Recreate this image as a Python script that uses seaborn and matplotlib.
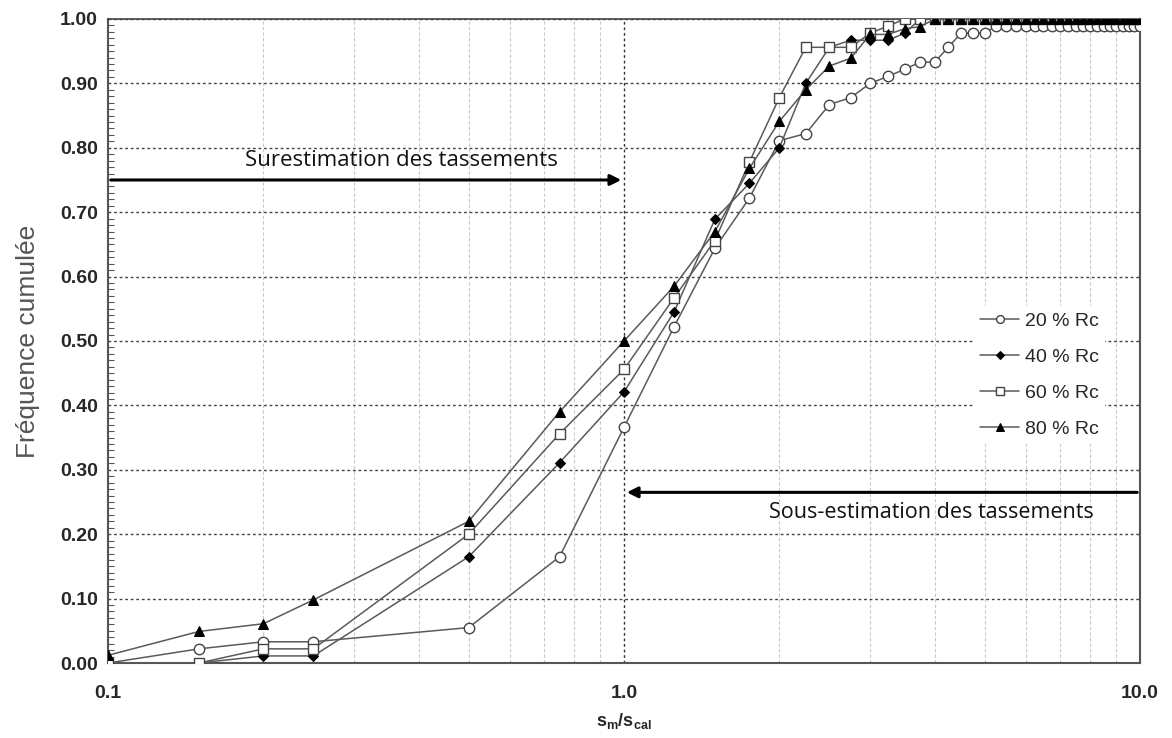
import numpy as np
import pandas as pd
import matplotlib
matplotlib.use('Agg')
import matplotlib.pyplot as plt
from matplotlib.ticker import FixedLocator, MultipleLocator, NullFormatter
import seaborn as sns

# s_m / s_cal values (same for every series)
x_ratio = [0.1, 0.15, 0.2, 0.25, 0.5, 0.75, 1.0, 1.25, 1.5, 1.75, 2.0, 2.25,
           2.5, 2.75, 3.0, 3.25, 3.5, 3.75, 4.0, 4.25, 4.5, 4.75, 5.0, 5.25,
           5.5, 5.75, 6.0, 6.25, 6.5, 6.75, 7.0, 7.25, 7.5, 7.75, 8.0, 8.25,
           8.5, 8.75, 9.0, 9.25, 9.5, 9.75, 10.0]

freq_20 = [0.0, 0.022, 0.033, 0.033, 0.055, 0.165, 0.366, 0.522, 0.644, 0.722,
           0.811, 0.822, 0.867, 0.878, 0.9, 0.911, 0.922, 0.933, 0.933, 0.956,
           0.978, 0.978, 0.978, 0.989, 0.989, 0.989, 0.989, 0.989, 0.989, 0.989,
           0.989, 0.989, 0.989, 0.989, 0.989, 0.989, 0.989, 0.989, 0.989, 0.989,
           0.989, 0.989, 0.989]
freq_40 = [0.0, 0.0, 0.011, 0.011, 0.165, 0.311, 0.421, 0.545, 0.689, 0.745,
           0.8, 0.9, 0.956, 0.967, 0.967, 0.967, 0.978, 1.0, 1.0, 1.0,
           1.0, 1.0, 1.0, 1.0, 1.0, 1.0, 1.0, 1.0, 1.0, 1.0,
           1.0, 1.0, 1.0, 1.0, 1.0, 1.0, 1.0, 1.0, 1.0, 1.0,
           1.0, 1.0, 1.0]
freq_60 = [0.0, 0.0, 0.022, 0.022, 0.2, 0.356, 0.456, 0.567, 0.656, 0.778,
           0.878, 0.956, 0.956, 0.956, 0.978, 0.989, 1.0, 1.0, 1.0, 1.0,
           1.0, 1.0, 1.0, 1.0, 1.0, 1.0, 1.0, 1.0, 1.0, 1.0,
           1.0, 1.0, 1.0, 1.0, 1.0, 1.0, 1.0, 1.0, 1.0, 1.0,
           1.0, 1.0, 1.0]
freq_80 = [0.012, 0.049, 0.061, 0.098, 0.22, 0.39, 0.5, 0.585, 0.67, 0.768,
           0.841, 0.89, 0.927, 0.939, 0.976, 0.976, 0.985, 0.988, 1.0, 1.0,
           1.0, 1.0, 1.0, 1.0, 1.0, 1.0, 1.0, 1.0, 1.0, 1.0,
           1.0, 1.0, 1.0, 1.0, 1.0, 1.0, 1.0, 1.0, 1.0, 1.0,
           1.0, 1.0, 1.0]

labels = ['20 % Rc', '40 % Rc', '60 % Rc', '80 % Rc']

sns.set_style('white')
plt.rcParams['font.family'] = ['Liberation Sans', 'DejaVu Sans']
plt.rcParams['mathtext.fontset'] = 'custom'
plt.rcParams['mathtext.bf'] = 'Liberation Sans:bold'
plt.rcParams['mathtext.rm'] = 'Liberation Sans'

fig = plt.figure(figsize=(11.72, 7.38), dpi=100)
ax = fig.add_axes([0.0922, 0.1016, 0.8805, 0.8727])

line_col = '#5a5a5a'
styles = [
    dict(marker='o', markersize=7.5, markerfacecolor='white', markeredgecolor='#444444', markeredgewidth=1.0),
    dict(marker='D', markersize=5.5, markerfacecolor='black', markeredgecolor='black'),
    dict(marker='s', markersize=7.5, markerfacecolor='white', markeredgecolor='#444444', markeredgewidth=1.0),
    dict(marker='^', markersize=7.5, markerfacecolor='black', markeredgecolor='black'),
]
series = [freq_20, freq_40, freq_60, freq_80]
for yv, lab, st in zip(series, labels, styles):
    sns.lineplot(x=x_ratio, y=yv, ax=ax, color=line_col, linewidth=1.1,
                 label=lab, zorder=3, **st)

ax.set_xscale('log')
ax.set_xlim(0.1, 10)
ax.set_ylim(0, 1)

ax.xaxis.set_major_locator(FixedLocator([0.1, 1.0, 10.0]))
ax.set_xticklabels(['0.1', '1.0', '10.0'])
ax.xaxis.set_minor_locator(FixedLocator([0.2, 0.3, 0.4, 0.5, 0.6, 0.7, 0.8, 0.9,
                                         2, 3, 4, 5, 6, 7, 8, 9]))
ax.xaxis.set_minor_formatter(NullFormatter())
ax.yaxis.set_major_locator(MultipleLocator(0.1))
ax.yaxis.set_minor_locator(MultipleLocator(0.01))
ax.set_yticklabels(['%.2f' % v for v in ax.get_yticks()])

ax.tick_params(axis='both', which='major', direction='inout', length=8, width=1,
               labelsize=14, color='#333333')
ax.tick_params(axis='y', which='minor', direction='in', length=4, width=0.8,
               color='#555555', left=True)
ax.tick_params(axis='x', which='minor', length=0)
for lab in ax.get_xticklabels() + ax.get_yticklabels():
    lab.set_fontweight('bold')
ax.tick_params(axis='x', pad=12)

ax.grid(False)
ax.grid(axis='y', which='major', color='#444444', linestyle=(0, (2, 2)), linewidth=1.0, zorder=0)
ax.grid(axis='x', which='minor', color='#c8c8c8', linestyle=(0, (3, 2)), linewidth=0.8, zorder=0)
ax.axvline(1.0, color='#333333', linestyle=(0, (2, 2)), linewidth=1.0, zorder=1)

for side in ['left', 'bottom', 'right']:
    ax.spines[side].set_color('#555555')
    ax.spines[side].set_linewidth(1.5)
ax.spines['top'].set_color('#444444')
ax.spines['top'].set_linestyle((0, (2, 1)))
ax.spines['top'].set_linewidth(1.2)

# arrows and annotations
ax.annotate('', xy=(1.0, 0.75), xytext=(0.1, 0.75),
            arrowprops=dict(arrowstyle='-|>', color='black', lw=2.2, mutation_scale=16))
ax.text(0.37, 0.78, 'Surestimation des tassements', ha='center', va='center',
        fontsize=16, family=['Open Sans', 'DejaVu Sans'], color='#111111')
ax.annotate('', xy=(1.0, 0.265), xytext=(10.0, 0.265),
            arrowprops=dict(arrowstyle='-|>', color='black', lw=2.2, mutation_scale=16))
ax.text(3.95, 0.234, 'Sous-estimation des tassements', ha='center', va='center',
        fontsize=15.5, family=['Open Sans', 'DejaVu Sans'], color='#111111')

ax.set_ylabel('Fréquence cumulée', fontsize=19, color='#555555', labelpad=14)
ax.set_xlabel(r'$\mathbf{s}_{\mathbf{m}}\mathbf{/s}_{\mathbf{cal}}$', fontsize=13, labelpad=6)

leg = ax.legend(loc='center left', bbox_to_anchor=(0.83, 0.447), frameon=True,
                fontsize=14, handlelength=2.0, labelspacing=0.95, markerscale=0.75,
                handletextpad=0.3, borderpad=0.3)
leg.get_frame().set_facecolor('white')
leg.get_frame().set_edgecolor('none')
leg.get_frame().set_alpha(1.0)
leg.get_frame().set_boxstyle('square', pad=0.0)

fig.savefig('out.png', dpi=100)
